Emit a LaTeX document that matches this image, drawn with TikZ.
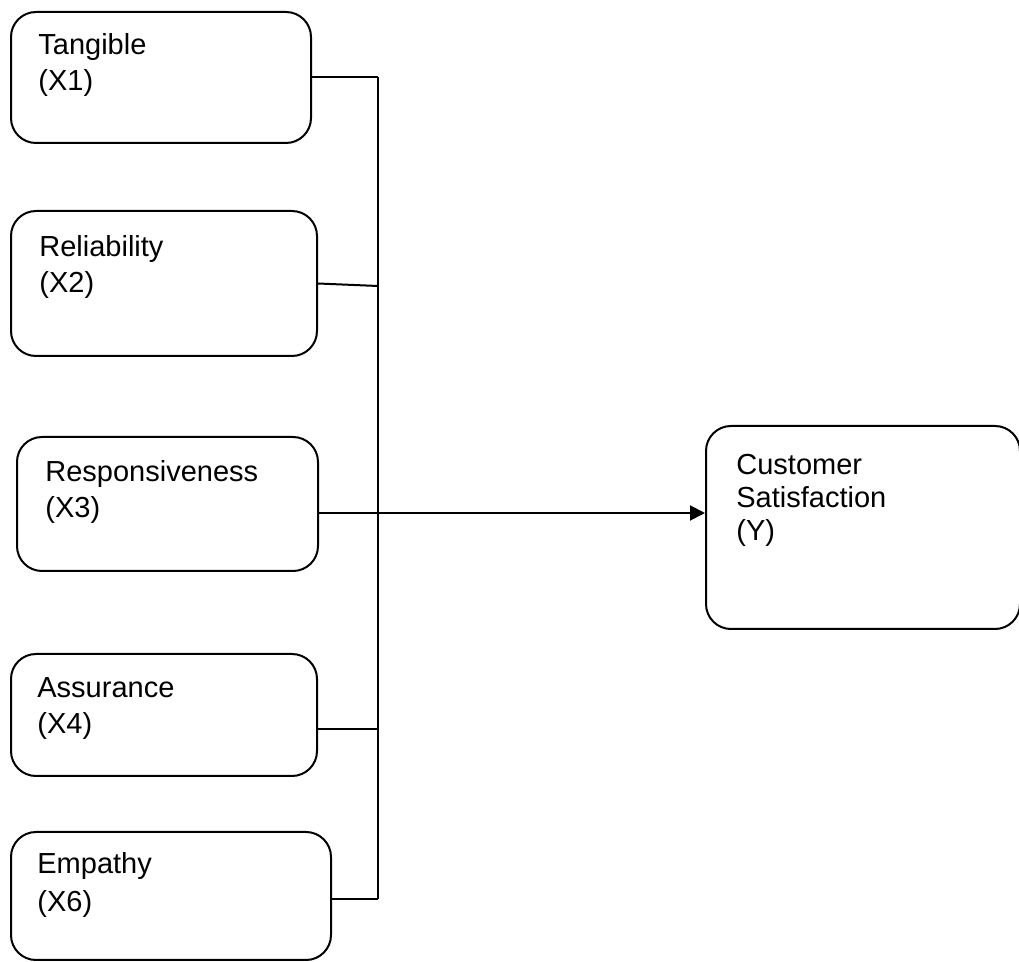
\documentclass[tikz,border=0pt]{standalone}
\usepackage{fontspec}
\setmainfont{Liberation Sans}
\usetikzlibrary{arrows.meta}
\begin{document}
\begin{tikzpicture}[x=0.5pt,y=-0.5pt,
  box/.style={draw, line width=1pt, rounded corners=12.5pt, inner sep=0pt},
  lbl/.style={anchor=base west, align=left, inner sep=0pt, font=\fontsize{14.5pt}{18pt}\selectfont},
  wire/.style={line width=1pt},
  arr/.style={line width=1pt, -{Triangle[length=7.5pt,width=7.5pt]}}]
\useasboundingbox (0,0) rectangle (1019,962);
\node[box, minimum width=150pt, minimum height=65.5pt] (t) at (161,77.5) {};
\node[box, minimum width=153pt, minimum height=72.5pt] (r) at (164,283.5) {};
\node[box, minimum width=150.5pt, minimum height=67pt] (rs) at (167.5,504) {};
\node[box, minimum width=153pt, minimum height=61pt] (a) at (164,715) {};
\node[box, minimum width=160pt, minimum height=64pt] (e) at (171,896) {};
\node[box, minimum width=157pt, minimum height=101.5pt] (cs) at (863,527.5) {};
% anchors at the baseline of the last line
\node[lbl] (tl) at (38,91) {Tangible\\(X1)};
\node[lbl] (rl) at (39,293) {Reliability\\(X2)};
\node[lbl] (rsl) at (45,518) {Responsiveness\\(X3)};
\node[lbl] (al) at (37,734) {Assurance\\(X4)};
\node[lbl, font=\fontsize{14.5pt}{19pt}\selectfont] (el) at (37,912) {Empathy\\(X6)};
\node[lbl, font=\fontsize{14.5pt}{16.5pt}\selectfont] (csl) at (736,541) {Customer\\Satisfaction\\(Y)};
\coordinate (b1) at (378,77);
\coordinate (b2) at (378,286);
\coordinate (b3) at (378,513);
\coordinate (b4) at (378,729);
\coordinate (b5) at (378,899);
\draw[wire] (b1) -- (b5);
\draw[wire] (t.east |- b1) -- (b1);
\draw[wire] (r.east) -- (b2);
\draw[wire] (rs.east |- b3) -- (b3);
\draw[wire] (a.east |- b4) -- (b4);
\draw[wire] (e.east |- b5) -- (b5);
\draw[arr] (b3) -- (cs.west |- b3);
\end{tikzpicture}
\end{document}
